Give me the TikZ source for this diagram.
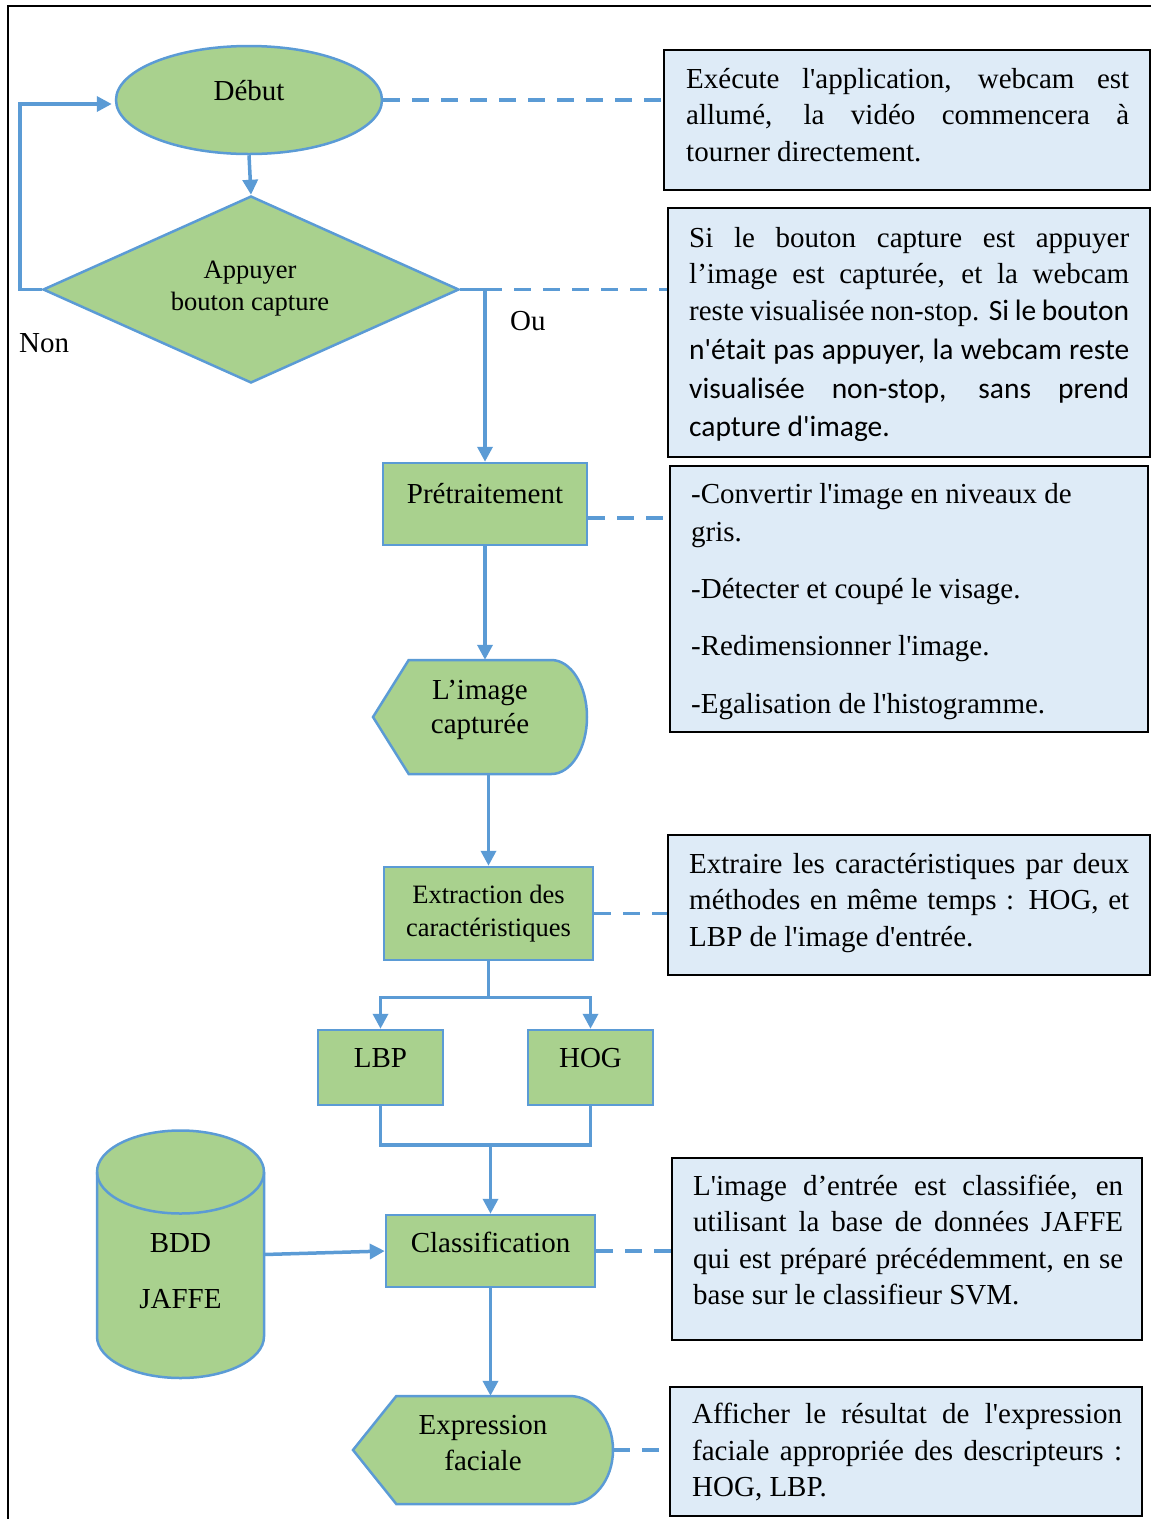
\documentclass[tikz,border=0pt]{standalone}
\usepackage{fontspec}
\setmainfont{Liberation Serif}[Ligatures=TeXOff]
\newfontfamily\calibfam{Carlito}[Ligatures=TeXOff]
\usetikzlibrary{shapes.geometric,arrows.meta}

\definecolor{flowgreen}{HTML}{A9D18E}
\definecolor{flowblue}{HTML}{5B9BD5}
\definecolor{notefill}{HTML}{DEEBF7}

\newcommand\ftbig{\fontsize{29}{36.5}\selectfont}
\newcommand\ftsmall{\fontsize{26.5}{33}\selectfont}
\newcommand\ftcal{\calibfam\fontsize{29.5}{36.5}\selectfont}
% one justified line of a note
\newcommand\jline[2]{\makebox[#1][s]{#2}}

\begin{document}
\begin{tikzpicture}[x=1pt,y=-1pt,
  flowshape/.style={draw=flowblue,fill=flowgreen,line width=2.5pt},
  flowbox/.style={flowshape,rectangle,inner sep=0pt},
  hidden/.style={rectangle,inner sep=0pt},
  notebox/.style={draw=black,fill=notefill,line width=2.2pt,rectangle,inner sep=0pt},
  notetext/.style={anchor=north west,inner sep=0pt,align=left,font=\ftbig},
  lbl/.style={anchor=base,inner sep=0pt,font=\ftbig},
  lblsmall/.style={anchor=base,inner sep=0pt,font=\ftsmall},
  conn/.style={draw=flowblue,line width=3.5pt},
  arrowconn/.style={conn,-{Triangle[length=15pt,width=15pt]}},
  dashlink/.style={draw=flowblue,line width=3.5pt,dash pattern=on 17pt off 12pt},
]
\useasboundingbox (0,0) rectangle (1151,1519);

% page frame
\draw[line width=2.2pt] (8,1519) -- (8,6) -- (1151,6);

% ---- flowchart shapes ----
\node[flowshape,ellipse,minimum width=266,minimum height=108,inner sep=0pt] (debut) at (249,100) {};
\node[lbl] (debut-t) at (249,100) {Début};

\node[flowshape,diamond,aspect=2.22,minimum width=416,minimum height=187,inner sep=0pt] (choice) at (251,289.5) {};
\node[lblsmall] (choice-t1) at (250,278) {Appuyer};
\node[lblsmall] (choice-t2) at (250,310) {bouton capture};
\node[lbl,anchor=base west] (non) at (19,352) {Non};
\node[lbl,anchor=base west] (ou) at (510,330) {Ou};

\node[flowbox,minimum width=204,minimum height=82] (pre) at (485,504) {};
\node[lbl] (pre-t) at (485,503) {Prétraitement};

\node[hidden,minimum width=214,minimum height=114] (img) at (480,717) {};
\draw[flowshape] (373,717) -- (408.7,660) -- (551.3,660)
  arc[start angle=90,end angle=-90,x radius=35.7pt,y radius=57pt]
  -- (408.7,774) -- cycle;
\node[lbl] (img-t1) at (480,699) {L’image};
\node[lbl] (img-t2) at (480,733) {capturée};

\node[flowbox,minimum width=209,minimum height=93] (ext) at (488.5,913.5) {};
\node[lblsmall] (ext-t1) at (488.5,903) {Extraction des};
\node[lblsmall] (ext-t2) at (488.5,936) {caractéristiques};

\node[flowbox,minimum width=125,minimum height=75] (lbp) at (380.5,1067.5) {};
\node[lbl] (lbp-t) at (380.5,1067) {LBP};
\node[flowbox,minimum width=125,minimum height=75] (hog) at (590.5,1067.5) {};
\node[lbl] (hog-t) at (590.5,1067) {HOG};

\node[flowbox,minimum width=209,minimum height=72] (cls) at (490.5,1251) {};
\node[lbl] (cls-t) at (490.5,1252) {Classification};

% database cylinder
\node[hidden,minimum width=167,minimum height=247] (bdd) at (180.5,1254.5) {};
\draw[flowshape] (97,1172) -- (97,1336.5)
  arc[start angle=180,end angle=360,x radius=83.5pt,y radius=41.5pt]
  -- (264,1172)
  arc[start angle=0,end angle=180,x radius=83.5pt,y radius=41.5pt] -- cycle;
\draw[draw=flowblue,line width=2.5pt] (97,1172)
  arc[start angle=180,end angle=360,x radius=83.5pt,y radius=41.5pt];
\node[lbl] (bdd-t1) at (180.5,1252) {BDD};
\node[lbl] (bdd-t2) at (180.5,1308) {JAFFE};

\node[hidden,minimum width=260,minimum height=108] (expr) at (483,1450) {};
\draw[flowshape] (353,1450) -- (396.3,1396) -- (569.7,1396)
  arc[start angle=90,end angle=-90,x radius=43.3pt,y radius=54pt]
  -- (396.3,1504) -- cycle;
\node[lbl] (expr-t1) at (483,1434) {Expression};
\node[lbl] (expr-t2) at (483,1470) {faciale};

% ---- notes ----
\node[notebox,minimum width=486,minimum height=140] (box1) at (907,120) {};
\node[notetext] (box1-t) at (686,62.45) {%
  \strut\jline{443pt}{Exécute l'application, webcam est}\\
  \jline{443pt}{allumé, la vidéo commencera à}\\
  tourner directement.};

\node[notebox,minimum width=482,minimum height=249] (box2) at (909,332.5) {};
\node[notetext] (box2-t) at (689,221.45) {%
  \strut\jline{440pt}{Si le bouton capture est appuyer}\\
  \jline{440pt}{l’image est capturée, et la webcam}\\
  \jline{440pt}{reste visualisée non-stop. {\ftcal Si le bouton}}\\[2.5pt]
  \jline{440pt}{\ftcal n'était pas appuyer, la webcam reste}\\[2.5pt]
  \jline{440pt}{\ftcal visualisée non-stop, sans prend}\\[1.5pt]
  {\ftcal capture d'image.}};

\node[notebox,minimum width=478,minimum height=266] (box3) at (909,599) {};
\node[notetext] (box3-t) at (691,477.45) {%
  \strut-Convertir l'image en niveaux de\\[1.5pt]
  gris.\\[20.5pt]
  -Détecter et coupé le visage.\\[20.5pt]
  -Redimensionner l'image.\\[21.5pt]
  -Egalisation de l'histogramme.};

\node[notebox,minimum width=482,minimum height=140] (box4) at (909,905) {};
\node[notetext] (box4-t) at (689,847.45) {%
  \strut\jline{440pt}{Extraire les caractéristiques par deux}\\
  \jline{440pt}{méthodes en même temps : HOG, et}\\
  LBP de l'image d'entrée.};

\node[notebox,minimum width=470,minimum height=182] (box5) at (907,1249) {};
\node[notetext] (box5-t) at (693,1169.45) {%
  \strut\jline{430pt}{L'image d’entrée est classifiée, en}\\
  \jline{430pt}{utilisant la base de données JAFFE}\\
  \jline{430pt}{qui est préparé précédemment, en se}\\
  base sur le classifieur SVM.};

\node[notebox,minimum width=472,minimum height=129] (box6) at (906,1451.5) {};
\node[notetext] (box6-t) at (692,1397.95) {%
  \strut\jline{430pt}{Afficher le résultat de l'expression}\\
  \jline{430pt}{faciale appropriée des descripteurs :}\\
  HOG, LBP.};

% ---- connectors ----
\draw[arrowconn] (debut.south) -- (choice.north);
\coordinate (loop) at (20,104);
\draw[arrowconn,shorten >=3pt] (choice.west) -| (loop) -- (debut.west |- loop);
\draw[dashlink] (debut.east) -- (debut.east -| box1.west);

\coordinate (fork) at (choice.east -| pre.north);
\draw[arrowconn] (choice.east) -- (fork) -- (pre.north);
\draw[dashlink] (fork) -- (fork -| box2.west);

\draw[arrowconn] (pre.south) -- (pre.south |- img.north);
\draw[dashlink] ([yshift=-14pt]pre.east) -- ([yshift=-14pt]pre.east -| box3.west);

\draw[arrowconn] (ext.north |- img.south) -- (ext.north);
\draw[dashlink] (ext.east) -- (ext.east -| box4.west);

\coordinate (split) at ([yshift=-36pt]ext.south);
\draw[conn] (ext.south) -- (split);
\draw[arrowconn] (split) -| (lbp.north);
\draw[arrowconn] (split) -| (hog.north);

\coordinate (merge) at (490.5,1145);
\draw[conn] (lbp.south) |- (merge) -| (hog.south);
\draw[arrowconn] (merge) -- (cls.north);

\draw[arrowconn] (bdd.east) -- (cls.west);
\draw[dashlink] (cls.east) -- (cls.east -| box5.west);

\draw[arrowconn] (cls.south) -- (cls.south |- expr.north);
\draw[dashlink] (expr.east) -- (expr.east -| box6.west);
\end{tikzpicture}
\end{document}
